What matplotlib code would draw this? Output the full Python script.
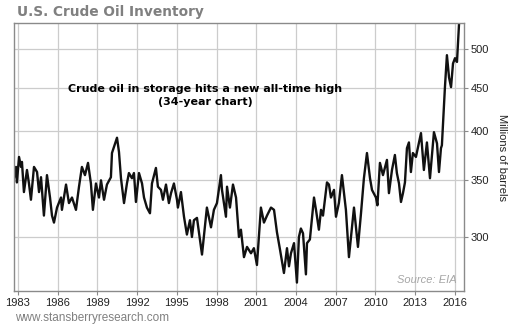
import matplotlib
matplotlib.use("Agg")
import matplotlib.pyplot as plt
from matplotlib.ticker import FixedLocator, NullLocator

# -----------------------------
# Inventory data (millions of barrels)
# -----------------------------

years = [
    1982.70, 1982.85, 1982.92, 1983.08, 1983.23, 1983.30, 1983.45, 1983.68, 1983.83, 1983.98,
    1984.21, 1984.44, 1984.59, 1984.74, 1984.96, 1985.19, 1985.42, 1985.57, 1985.72, 1985.95,
    1986.25, 1986.32, 1986.63, 1986.85, 1987.08, 1987.38, 1987.61, 1987.83, 1988.06, 1988.29,
    1988.51, 1988.66, 1988.89, 1989.12, 1989.27, 1989.50, 1989.72, 1990.02, 1990.10, 1990.48,
    1990.63, 1990.78, 1991.01, 1991.23, 1991.38, 1991.61, 1991.76, 1991.91, 1992.14, 1992.37,
    1992.52, 1992.74, 1992.97, 1993.12, 1993.42, 1993.57, 1993.80, 1993.95, 1994.18, 1994.40,
    1994.56, 1994.78, 1995.01, 1995.08, 1995.31, 1995.54, 1995.76, 1995.99, 1996.14, 1996.29,
    1996.52, 1996.90, 1997.27, 1997.58, 1997.80, 1998.03, 1998.33, 1998.41, 1998.71, 1998.79,
    1999.01, 1999.24, 1999.47, 1999.69, 1999.84, 2000.07, 2000.30, 2000.60, 2000.82, 2001.05,
    2001.35, 2001.58, 2001.81, 2002.11, 2002.34, 2002.56, 2002.79, 2003.09, 2003.32, 2003.47,
    2003.62, 2003.85, 2004.07, 2004.22, 2004.37, 2004.53, 2004.75, 2004.83, 2005.05, 2005.36,
    2005.51, 2005.73, 2005.89, 2006.04, 2006.34, 2006.49, 2006.64, 2006.87, 2007.02, 2007.24,
    2007.47, 2007.77, 2008.00, 2008.38, 2008.68, 2008.91, 2009.13, 2009.36, 2009.59, 2009.74,
    2010.04, 2010.15, 2010.34, 2010.57, 2010.87, 2011.02, 2011.25, 2011.47, 2011.62, 2011.78,
    2011.93, 2012.08, 2012.23, 2012.38, 2012.53, 2012.68, 2012.83, 2013.06, 2013.44, 2013.66,
    2013.89, 2014.12, 2014.42, 2014.65, 2014.80, 2014.95, 2015.02, 2015.25, 2015.40, 2015.56,
    2015.71, 2015.86, 2016.01, 2016.16, 2016.31,
]

stocks = [
    352, 363, 348, 373, 363, 368, 339, 360, 347, 332,
    363, 358, 339, 353, 318, 355, 334, 318, 312, 325,
    334, 323, 346, 329, 334, 323, 344, 363, 355, 367,
    347, 323, 347, 334, 350, 332, 346, 353, 377, 393,
    378, 352, 329, 347, 357, 352, 357, 330, 357, 347,
    334, 325, 320, 347, 362, 344, 341, 332, 346, 329,
    338, 347, 332, 325, 339, 317, 302, 314, 300, 314,
    316, 286, 325, 308, 323, 329, 355, 341, 317, 344,
    325, 346, 334, 300, 306, 284, 292, 287, 291, 278,
    325, 312, 318, 325, 323, 304, 290, 272, 291, 277,
    287, 295, 265, 300, 307, 303, 271, 295, 298, 334,
    323, 306, 323, 318, 348, 346, 334, 341, 317, 329,
    355, 323, 284, 325, 292, 320, 352, 377, 352, 341,
    334, 327, 367, 355, 370, 338, 360, 375, 357, 347,
    330, 338, 348, 382, 388, 358, 377, 373, 398, 360,
    388, 352, 399, 387, 358, 382, 385, 451, 492, 463,
    451, 481, 488, 483, 534,
]

x_ticks = [1983, 1986, 1989, 1992, 1995, 1998, 2001, 2004, 2007, 2010, 2013, 2016]
y_ticks = [300, 350, 400, 450, 500]

# -----------------------------
# Figure
# -----------------------------

fig = plt.figure(figsize=(5.1, 3.25), dpi=100)
ax = fig.add_axes([14 / 510, 1 - 291 / 325, 450 / 510, 268 / 325])

ax.plot(years, stocks, color="#111111", linewidth=1.7, solid_joinstyle="round")

ax.set_yscale("log")
ax.set_xlim(1982.70, 2016.69)
ax.set_ylim(259, 537)

ax.xaxis.set_major_locator(FixedLocator(x_ticks))
ax.yaxis.set_major_locator(FixedLocator(y_ticks))
ax.yaxis.set_minor_locator(NullLocator())
ax.set_xticklabels([str(t) for t in x_ticks])
ax.set_yticklabels([str(t) for t in y_ticks])

ax.yaxis.tick_right()
ax.yaxis.set_label_position("right")
ax.grid(True, color="#cccccc", linewidth=0.9)
ax.set_axisbelow(True)

for side in ax.spines.values():
    side.set_color("#8a8a8a")
    side.set_linewidth(1.0)

ax.tick_params(axis="both", length=3, width=0.8, color="#8a8a8a",
               labelsize=8, labelcolor="#222222", pad=2)
for lbl in ax.get_xticklabels() + ax.get_yticklabels():
    lbl.set_family("Liberation Sans")

ax.set_ylabel("Millions of barrels", rotation=-90, labelpad=13,
              fontsize=8, family="Liberation Sans", color="#222222")

# -----------------------------
# Text
# -----------------------------

fig.text(17 / 510, 1 - 12 / 325, "U.S. Crude Oil Inventory", ha="left", va="center",
         fontsize=9.9, fontweight="bold", color="#808080", family="DejaVu Sans")

ax.text(0.425, 0.73, "Crude oil in storage hits a new all-time high\n(34-year chart)",
        transform=ax.transAxes, ha="center", va="center", fontsize=8,
        fontweight="bold", color="black", family="DejaVu Sans", linespacing=1.35)

ax.text(0.983, 0.04, "Source: EIA", transform=ax.transAxes, ha="right", va="center",
        fontsize=8, style="italic", color="#a6a6a6", family="Liberation Sans")

fig.text(15 / 510, 1 - 318 / 325, "www.stansberryresearch.com", ha="left", va="center",
         fontsize=8.5, color="#808080", family="Liberation Sans")

fig.savefig("out.png", dpi=100)
plt.close(fig)
